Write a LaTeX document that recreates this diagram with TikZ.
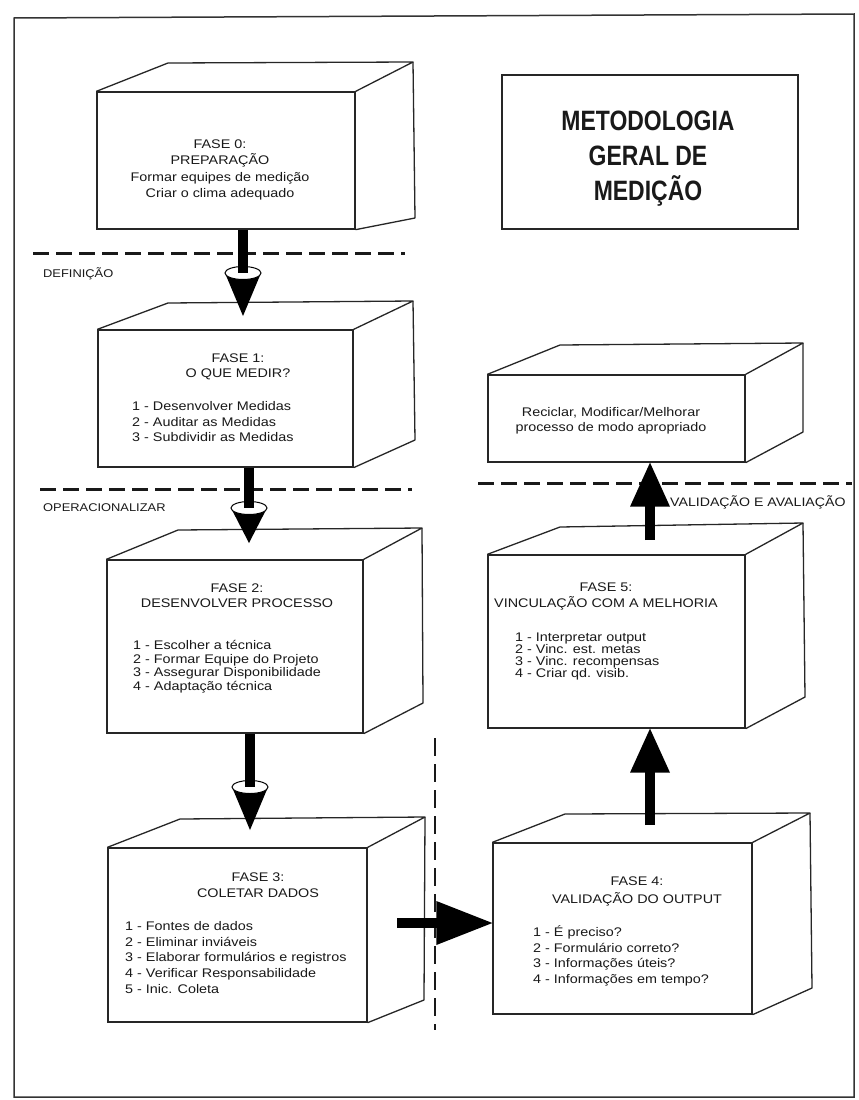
\documentclass[tikz,border=0pt]{standalone}
\usepackage{fontspec}
\setmainfont{Liberation Sans}
\newfontfamily\boxfont[FakeStretch=1.15]{Liberation Sans}
\newfontfamily\headfont[FakeStretch=0.82]{Liberation Sans}
\usetikzlibrary{fit,calc}

\tikzset{
  face/.style={draw=black!85, line width=1.3pt, fill=white, inner sep=0pt},
  edge/.style={draw=black!85, line width=1.3pt, line join=round},
  frameline/.style={draw=black!80, line width=1.5pt},
  sep/.style={draw=black!90, line width=3pt, dash pattern=on 16pt off 7pt},
  vsep/.style={draw=black!90, line width=2.5pt, dash pattern=on 18pt off 8pt},
  shaft/.style={draw=black, line width=10.5pt},
  txt/.style={font=\boxfont\fontsize{12.5}{#1}\selectfont, inner sep=0pt, text=black!90},
  lbl/.style={font=\boxfont\fontsize{#1}{#1}\selectfont, inner sep=0pt, text=black!90},
  headtxt/.style={font=\headfont\bfseries\fontsize{28}{35}\selectfont, inner sep=0pt, text=black!90}
}

% front face node + top and right faces of a box drawn in perspective
% #1 name, #2 front corners, #3 back top-left, #4 back top-right, #5 back bottom-right
\newcommand{\solidbox}[5]{%
  \node[face, fit={#2}] (#1) {};
  \draw[edge] (#1.north west) -- #3 -- #4 -- (#1.north east);
  \draw[edge] #4 -- #5 -- (#1.south east);
}

% thick arrow ending in a cone; #1 source node, #2 tip coordinate, #3 cone depth
\newcommand{\conearrow}[3]{%
  \fill[black] ($(#2)+(-18,-#3)$) -- (#2) -- ($(#2)+(18,-#3)$) -- cycle;
  \draw[black, line width=1pt, fill=white] ($(#2)+(0,-#3)$) ellipse (18 and 6.5);
  \draw[shaft] (#1.south -| #2) -- ($(#2)+(0,-#3)$);
}

% thick upward arrow; #1 tail coordinate, #2 target node
\newcommand{\blockup}[2]{%
  \draw[shaft] (#1) -- ($(#2.south -| #1)+(0,40)$);
  \fill[black] (#2.south -| #1) -- ++(-20,44) -- ++(40,0) -- cycle;
}

\begin{document}
\begin{tikzpicture}[x=1pt,y=-1pt]
\useasboundingbox (0,0) rectangle (859,1100);
\fill[white] (0,0) rectangle (859,1100);

% outer frame
\draw[frameline] (14,18) -- (854,14) -- (854,1097) -- (14,1097) -- cycle;

% title (multi-line nodes are placed by the baseline of their last line)
\node[draw=black!85, line width=1.6pt, fit={(502,75) (798,229)}, inner sep=0pt] (title) {};
\node[headtxt, align=center, anchor=base] (titletext) at (648,200) {METODOLOGIA\\GERAL DE\\MEDIÇÃO};

% phase boxes
\solidbox{f0}{(97,92) (355,229)}{(168,63)}{(413,62)}{(415,218)}
\solidbox{f1}{(98,330) (353,467)}{(168,303)}{(413,301)}{(415,440)}
\solidbox{f2}{(107,560) (363,733)}{(178,530)}{(422,528)}{(423,703)}
\solidbox{f3}{(108,848) (367,1022)}{(180,819)}{(425,817)}{(424,1000)}
\solidbox{f4}{(493,843) (752,1014)}{(565,814)}{(810,813)}{(812,988)}
\solidbox{f5}{(488,555) (745,728)}{(560,527)}{(803,523)}{(805,697)}
\solidbox{fr}{(488,375) (745,462)}{(560,345)}{(803,343)}{(803,432)}

% box texts
\node[txt=16.3, align=center, anchor=base] (t0) at (220,197.4)
  {FASE 0:\\PREPARAÇÃO\\Formar equipes de medição\\Criar o clima adequado};

\node[txt=15, align=center, anchor=base] (t1) at (238,377.5) {FASE 1:\\O QUE MEDIR?};
\node[txt=15.5, align=left, anchor=base west] (l1) at (132,441.5)
  {1 - Desenvolver Medidas\\2 - Auditar as Medidas\\3 - Subdividir as Medidas};

\node[txt=15, align=center, anchor=base] (t2) at (237,607.5) {FASE 2:\\DESENVOLVER PROCESSO};
\node[txt=13.5, align=left, anchor=base west] (l2) at (133,690)
  {1 - Escolher a técnica\\2 - Formar Equipe do Projeto\\3 - Assegurar Disponibilidade\\4 - Adaptação técnica};

\node[txt=16, align=center, anchor=base] (t3) at (258,897.5) {FASE 3:\\COLETAR DADOS};
\node[txt=15.7, align=left, anchor=base west] (l3) at (125,993.3)
  {1 - Fontes de dados\\2 - Eliminar inviáveis\\3 - Elaborar formulários e registros\\4 - Verificar Responsabilidade\\5 - Inic. Coleta};

\node[txt=18, align=center, anchor=base] (t4) at (637,903.5) {FASE 4:\\VALIDAÇÃO DO OUTPUT};
\node[txt=15.7, align=left, anchor=base west] (l4) at (533,983.6)
  {1 - É preciso?\\2 - Formulário correto?\\3 - Informações úteis?\\4 - Informações em tempo?};

\node[txt=16, align=center, anchor=base] (t5) at (606,607.5) {FASE 5:\\VINCULAÇÃO COM A MELHORIA};
\node[txt=12.3, align=left, anchor=base west] (l5) at (515,677.9)
  {1 - Interpretar output\\2 - Vinc. est. metas\\3 - Vinc. recompensas\\4 - Criar qd. visib.};

\node[txt=15, align=center, anchor=base] (tr) at (611,431.5)
  {Reciclar, Modificar/Melhorar\\processo de modo apropriado};

% stage separators and their labels
\draw[sep] (33,253) -- (405,253);
\draw[sep] (40,489) -- (412,489);
\draw[sep] (478,483) -- (852,483);
\draw[vsep] (435,738) -- (435,1030);
\node[lbl=11.2, anchor=base west] (ldef) at (43,277) {DEFINIÇÃO};
\node[lbl=11.2, anchor=base west] (lop) at (43,511) {OPERACIONALIZAR};
\node[lbl=12.3, anchor=base west] (lval) at (670,506.5) {VALIDAÇÃO E AVALIAÇÃO};

% connectors
\coordinate (k01) at (243,316);
\coordinate (k12) at (249,543);
\coordinate (k23) at (250,830);
\conearrow{f0}{k01}{43}
\conearrow{f1}{k12}{35}
\conearrow{f2}{k23}{43}

\coordinate (r34) at (397,923);
\draw[shaft] (r34) -- ($(f4.west |- r34)+(-52,0)$);
\fill[black] (f4.west |- r34) -- ++(-56,-22) -- ++(0,44) -- cycle;

\coordinate (u45) at (650,825);
\coordinate (u5r) at (650,540);
\blockup{u45}{f5}
\blockup{u5r}{fr}
\end{tikzpicture}
\end{document}
